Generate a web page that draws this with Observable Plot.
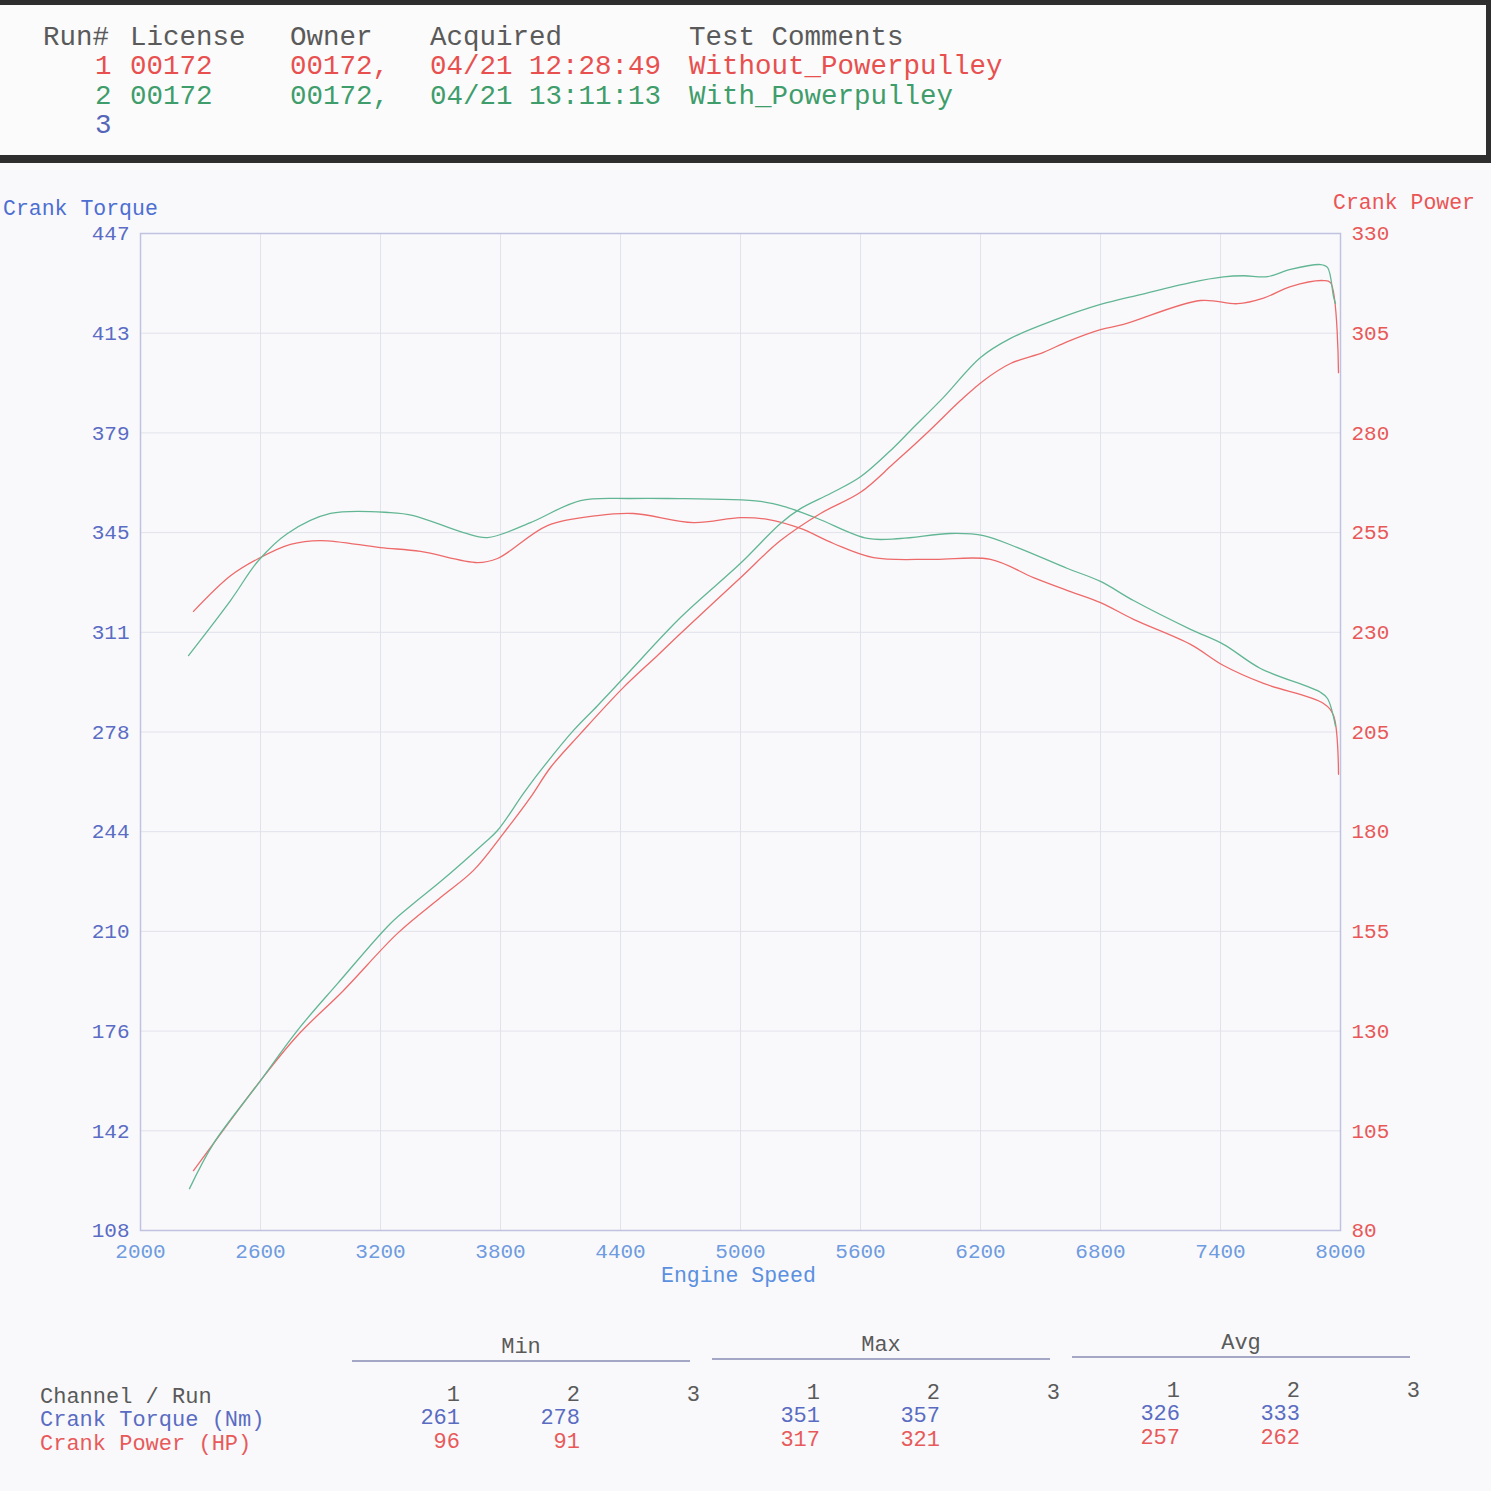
<!DOCTYPE html>
<html>
<head>
<meta charset="utf-8">
<script src="https://cdn.jsdelivr.net/npm/d3@7"></script>
<script src="https://cdn.jsdelivr.net/npm/@observablehq/plot@0.6"></script>
<style>
  body { margin: 0; background: #f8f8fa; }
  #page { position: relative; width: 1491px; height: 1491px; overflow: hidden; font-family: "Liberation Mono", "DejaVu Sans Mono", monospace; background: #f9f9fb; }
  #head { position: absolute; left: 0; top: 0; width: 1491px; height: 163px; box-sizing: border-box;
          border-top: 5px solid #2e2e2e; border-bottom: 8px solid #2e2e2e; border-right: 5px solid #2e2e2e; background: #fbfbfb; }
  .t { position: absolute; white-space: pre; }
  .hd { font-size: 27.5px; line-height: 30px; }
  .tb { font-size: 22px; line-height: 24px; }
  #chart { position: absolute; left: 0; top: 163px; }
</style>
</head>
<body>
<div id="page">
  <div id="head"></div>
  <div id="chart"></div>
</div>
<script>
// run sheet header
const headCols = ["Run#", "License", "Owner", "Acquired", "Test Comments"];
const runIds = ["1", "2", "3"];
const runLicense = ["00172", "00172", ""];
const runOwner = ["00172,", "00172,", ""];
const runAcquired = ["04/21 12:28:49", "04/21 13:11:13", ""];
const runComments = ["Without_Powerpulley", "With_Powerpulley", ""];
const runColors = ["#e8504f", "#3f9d6c", "#5566b8"];

// run 1 (without) - crank torque, Nm
const rpmTorque1 = [2265, 2450, 2590, 2750, 2900, 3200, 3400, 3685, 3785, 4035, 4285, 4465, 4765, 5000, 5135, 5300, 5465, 5665, 5965, 6250, 6465, 6635, 6800, 6965, 7250, 7415, 7615, 7915, 7965, 7990];
const torque1 = [318.5, 330.6, 336.5, 341.3, 342.6, 340.2, 338.9, 335.1, 336.5, 347.7, 351.1, 351.8, 348.7, 350.4, 349.8, 346.7, 341.6, 336.8, 336.2, 336.2, 330.0, 325.6, 321.5, 315.8, 307.3, 300.1, 294.0, 287.2, 283.1, 263.1];
// run 2 (with) - crank torque, Nm
const rpmTorque2 = [2240, 2450, 2590, 2735, 2950, 3250, 3365, 3615, 3735, 3950, 4200, 4450, 4635, 5100, 5235, 5385, 5635, 5800, 6050, 6215, 6385, 6635, 6800, 6965, 7250, 7415, 7600, 7900, 7935, 7975];
const torque2 = [303.5, 322.2, 335.8, 345.0, 351.8, 352.1, 351.1, 345.3, 343.6, 348.7, 356.2, 356.9, 356.9, 355.9, 353.8, 350.1, 343.3, 343.3, 345.0, 344.3, 340.2, 333.1, 328.7, 322.2, 312.4, 307.3, 299.1, 291.0, 288.9, 279.5];
// run 1 - crank power, HP
const rpmPower1 = [2265, 2450, 2600, 2785, 3015, 3285, 3500, 3665, 3815, 3950, 4050, 4200, 4415, 4585, 4700, 5000, 5200, 5400, 5600, 5765, 5935, 6100, 6215, 6350, 6515, 6635, 6800, 6915, 7300, 7485, 7615, 7750, 7915, 7950, 7990];
const power1 = [95.0, 107.6, 117.6, 128.9, 140.2, 154.5, 163.5, 170.3, 179.6, 188.6, 196.1, 204.6, 216.2, 224.2, 229.7, 243.7, 253.0, 259.8, 265.1, 272.3, 280.1, 288.1, 293.1, 297.4, 300.2, 302.9, 305.9, 307.2, 313.2, 312.4, 313.8, 316.7, 318.2, 317.7, 295.1];
// run 2 - crank power, HP
const rpmPower2 = [2245, 2365, 2590, 2785, 2985, 3250, 3365, 3500, 3715, 3785, 3915, 4000, 4165, 4285, 4435, 4700, 5000, 5200, 5300, 5450, 5600, 5765, 5850, 6015, 6200, 6350, 6565, 6800, 7000, 7250, 7415, 7515, 7635, 7750, 7900, 7935, 7965, 7975];
const power2 = [90.5, 101.8, 116.9, 130.2, 141.9, 157.0, 162.0, 167.5, 177.0, 180.3, 189.6, 195.3, 205.4, 211.6, 219.6, 233.7, 247.3, 257.3, 261.0, 264.8, 269.0, 276.3, 280.6, 288.9, 298.9, 303.7, 308.2, 312.2, 314.7, 317.7, 319.1, 319.4, 319.2, 321.0, 322.2, 321.5, 314.2, 312.4];

// axis ticks
const rpmTicks = [2000, 2600, 3200, 3800, 4400, 5000, 5600, 6200, 6800, 7400, 8000];
const torqueLabels = [108, 142, 176, 210, 244, 278, 311, 345, 379, 413, 447];
const powerLabels = [80, 105, 130, 155, 180, 205, 230, 255, 280, 305, 330];

// summary table
const statGroups = ["Min", "Max", "Avg"];
const torqueStats = [[261, 278, ""], [351, 357, ""], [326, 333, ""]];
const powerStats = [[96, 91, ""], [317, 321, ""], [257, 262, ""]];

const tMin = torqueLabels[0], tMax = torqueLabels[torqueLabels.length - 1];
const pMin = powerLabels[0], pMax = powerLabels[powerLabels.length - 1];
const tStep = (tMax - tMin) / (torqueLabels.length - 1);
const tickPos = torqueLabels.map((d, i) => tMin + i * tStep);
// power is drawn against the right axis, which shares the torque range
const toT = p => tMin + (p - pMin) * (tMax - tMin) / (pMax - pMin);

const RED = "#ee6a6a", GREEN = "#62b694";
const series = (xs, ys) => xs.map((x, i) => ({x, y: ys[i]}));

// header text
const head = d3.select("#head");
const colX = [43, 130, 290, 430, 689];
headCols.forEach((c, i) => head.append("div").attr("class", "t hd").style("left", colX[i] + "px").style("top", "18px").style("color", "#5a5a5a").text(c));
runIds.forEach((r, i) => {
  const top = 47 + i * 29.5;
  const cells = [r, runLicense[i], runOwner[i], runAcquired[i], runComments[i]];
  const xs = [95, 130, 290, 430, 689];
  cells.forEach((c, j) => { if (c) head.append("div").attr("class", "t hd").style("left", xs[j] + "px").style("top", top + "px").style("color", runColors[i]).text(c); });
});

const chart = Plot.plot({
  width: 1491,
  height: 1140,
  marginLeft: 140,
  marginRight: 151,
  marginTop: 70,
  marginBottom: 73,
  style: {fontFamily: "Liberation Mono, monospace", fontSize: "21px", background: "transparent", overflow: "visible"},
  x: {domain: [2000, 8000]},
  y: {domain: [tMin, tMax]},
  marks: [
    Plot.gridX(rpmTicks, {stroke: "#e2e2ec", strokeOpacity: 1}),
    Plot.gridY(tickPos, {stroke: "#e2e2ec", strokeOpacity: 1}),
    Plot.frame({stroke: "#c0c3df", strokeWidth: 1.5}),
    Plot.axisX({ticks: rpmTicks, tickSize: 0, tickPadding: 13, tickFormat: d => String(d), fill: "#6f9be0", label: null}),
    Plot.axisY({anchor: "left", ticks: tickPos, tickSize: 0, tickPadding: 11, tickFormat: (d) => torqueLabels[Math.round((d - tMin) / tStep)], fill: "#5a6cc4", label: null}),
    Plot.axisY({anchor: "right", ticks: tickPos, tickSize: 0, tickPadding: 11, tickFormat: (d) => powerLabels[Math.round((d - tMin) / tStep)], fill: "#e85858", label: null}),
    Plot.line(series(rpmTorque1, torque1), {x: "x", y: "y", stroke: RED, strokeWidth: 1.3, curve: "catmull-rom"}),
    Plot.line(series(rpmTorque2, torque2), {x: "x", y: "y", stroke: GREEN, strokeWidth: 1.3, curve: "catmull-rom"}),
    Plot.line(series(rpmPower1, power1), {x: "x", y: d => toT(d.y), stroke: RED, strokeWidth: 1.3, curve: "catmull-rom"}),
    Plot.line(series(rpmPower2, power2), {x: "x", y: d => toT(d.y), stroke: GREEN, strokeWidth: 1.3, curve: "catmull-rom"})
  ]
});
d3.select("#chart").append(() => chart);

// axis titles
const page = d3.select("#page");
page.append("div").attr("class", "t").style("left", "3px").style("top", "197px").style("font-size", "21.5px").style("color", "#4d6fd2").text("Crank Torque");
page.append("div").attr("class", "t").style("right", "16px").style("top", "191px").style("font-size", "21.5px").style("color", "#ea5555").text("Crank Power");
page.append("div").attr("class", "t").style("left", "661px").style("top", "1264px").style("font-size", "21.5px").style("color", "#5b90e0").text("Engine Speed");

// summary table
const groupX = [352, 712, 1072];
statGroups.forEach((g, k) => {
  const dy = -2 * k;
  page.append("div").attr("class", "t tb").style("left", groupX[k] + "px").style("width", "338px").style("text-align", "center")
    .style("top", (1336 + dy) + "px").style("color", "#5a5a5a").text(g);
  page.append("div").style("position", "absolute").style("left", groupX[k] + "px").style("top", (1360 + dy) + "px")
    .style("width", "338px").style("height", "2px").style("background", "#a4a8c6");
  [0, 1, 2].forEach(j => {
    const right = 1491 - (460 + k * 360 + j * 120);
    page.append("div").attr("class", "t tb").style("right", right + "px").style("top", (1384 + dy) + "px").style("color", "#5a5a5a").text(runIds[j]);
    page.append("div").attr("class", "t tb").style("right", right + "px").style("top", (1407 + dy) + "px").style("color", "#5a6cc2").text(torqueStats[k][j]);
    page.append("div").attr("class", "t tb").style("right", right + "px").style("top", (1431 + dy) + "px").style("color", "#e85a5a").text(powerStats[k][j]);
  });
});
page.append("div").attr("class", "t tb").style("left", "40px").style("top", "1386px").style("color", "#5a5a5a").text("Channel / Run");
page.append("div").attr("class", "t tb").style("left", "40px").style("top", "1409px").style("color", "#5a6cc2").text("Crank Torque (Nm)");
page.append("div").attr("class", "t tb").style("left", "40px").style("top", "1433px").style("color", "#e85a5a").text("Crank Power (HP)");
</script>
</body>
</html>
